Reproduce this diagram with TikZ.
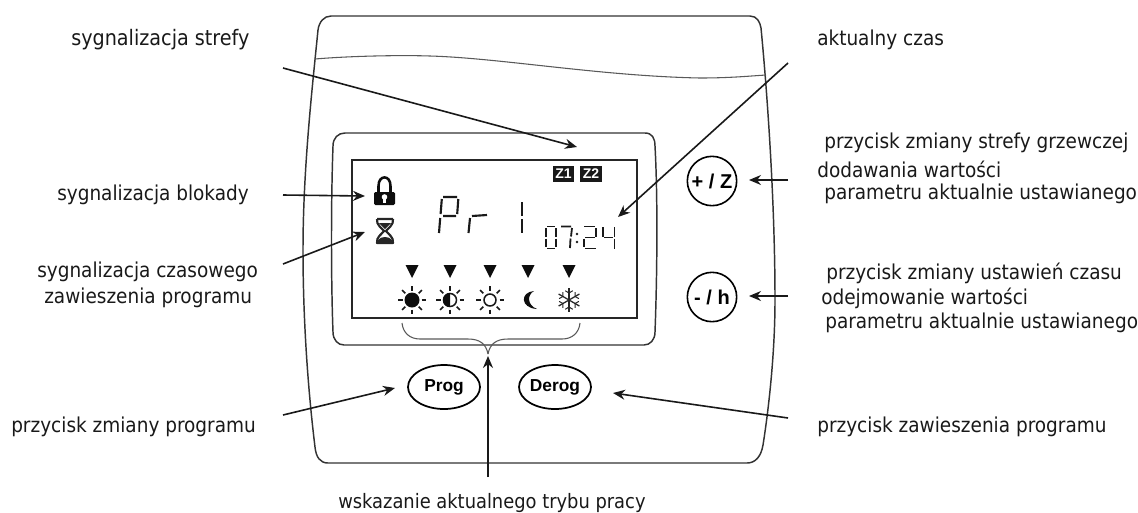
\documentclass[tikz,border=0pt]{standalone}
\usepackage{fontspec}
\setmainfont{DejaVu Sans Condensed}
\newfontfamily\btnfont[BoldFont={Liberation Sans Bold}]{Liberation Sans}
\usetikzlibrary{arrows.meta,shapes.geometric}
\tikzset{
 lbl/.style={anchor=west,inner sep=0pt,font=\fontsize{15.4}{18}\selectfont,text=black!90},
 callout/.style={line width=1.2pt,draw=black!90,-{Stealth[length=9pt,width=7.5pt]}},
 shell/.style={line width=1.1pt,draw=black!80,line join=round},
 thin shell/.style={line width=0.8pt,draw=black!65},
 btnc/.style={draw,circle,line width=1.2pt,minimum size=37pt,inner sep=0pt,font=\btnfont\bfseries\fontsize{15}{16}\selectfont},
 btne/.style={draw,ellipse,line width=1.3pt,minimum width=54pt,minimum height=33pt,inner sep=0pt,font=\btnfont\bfseries\fontsize{13}{15}\selectfont},
 seg/.style={line width=1.6pt,line cap=butt,draw=black!90},
 segs/.style={line width=1.35pt,line cap=butt,draw=black!90},
 zbox/.style={fill=black!90,text=white,inner sep=0pt,minimum width=16pt,minimum height=12.5pt,font=\btnfont\bfseries\fontsize{10.5}{11}\selectfont},
 ray/.style={line width=1.15pt,draw=black!90},
 mark tri/.style={fill=black!95,draw=none},
}
\newcommand{\lcdsun}[3]{%
 \foreach \a in {0,45,...,315}{\draw[ray] ([shift={(\a:9.5)}]#1,#2) -- ([shift={(\a:14)}]#1,#2);}%
 #3}
\newcommand{\lcdtri}[1]{\fill[mark tri] (#1-6.5,265) -- (#1+6.5,265) -- (#1,278) -- cycle;}
\begin{document}
\begin{tikzpicture}[x=0.75pt,y=-0.75pt]
\useasboundingbox (0,0) rectangle (1138,512);
% housing
\draw[shell] (331,16) -- (750,16) .. controls (757,16) and (760,22) .. (761,28)
  .. controls (767,90) and (775,200) .. (775,300) .. controls (775,360) and (767,420) .. (763,445)
  .. controls (761,457) and (755,463) .. (747,463) -- (328,463)
  .. controls (320,463) and (316,457) .. (315,447)
  .. controls (308,390) and (303,320) .. (303,250) .. controls (303,170) and (312,90) .. (318,30)
  .. controls (319,22) and (324,16) .. (331,16) -- cycle;
\draw[thin shell] (315,59) .. controls (350,56) and (400,55) .. (430,56)
  .. controls (500,58) and (600,76) .. (700,78) .. controls (730,78) and (750,76) .. (766,75);
% bezel and LCD
\draw[shell] (345,133) -- (645,133) .. controls (652,133) and (655,138) .. (655,146)
  .. controls (658,200) and (657,280) .. (655,332) .. controls (655,340) and (650,345) .. (644,345)
  -- (344,345) .. controls (338,345) and (333,340) .. (333,332)
  .. controls (331,280) and (331,200) .. (333,146) .. controls (333,138) and (338,133) .. (345,133) -- cycle;
\draw[line width=1.3pt,draw=black!85] (352,160) rectangle (637,318);
% zone flags
\node[zbox] (zone1) at (563.5,174) {Z1};
\node[zbox] (zone2) at (591,174) {Z2};
% lock
\draw[line width=1.9pt,black!95] (378.5,195) -- (378.5,186) .. controls (378.5,174.5) and (390.5,174.5) .. (390.5,186) -- (390.5,195);
\fill[black!95,rounded corners=1pt] (374,192) rectangle (395,205);
\fill[white] (384.5,197) circle (2.8);
\fill[white] (383.2,198) rectangle (385.8,203);
% hourglass
\draw[line width=1.6pt,black!85,line join=round] (377,219) -- (393,219) (393,219) .. controls (394,225) and (388,228) .. (386,231)
  .. controls (388,234) and (394,237) .. (393,243) -- (377,243) .. controls (376,237) and (382,234) .. (384,231)
  .. controls (382,228) and (376,225) .. (377,219);
\fill[black!85] (378,240) .. controls (381,236) and (389,236) .. (392,240) -- (392,243) -- (378,243) -- cycle;
\fill[black!85] (379,223) -- (391,223) -- (385,229) -- cycle;
% big digits
\draw[seg] (441.8,199) -- (440.6,214) (440.2,218) -- (439,233) (443,197) -- (457,197) (458.3,199) -- (457.2,214) (443,216) -- (456,216);
\draw[seg] (470,218) -- (468.5,233) (472,216) -- (487,215);
\draw[seg] (522,202) -- (522,216) (522,219) -- (522,233);
% small digits 07:24
\draw[segs] (546,228) -- (546,236.5) (546,238.5) -- (546,247) (547,226.5) -- (555,226.5) (556,228) -- (556,236.5) (556,238.5) -- (556,247) (547,248.5) -- (555,248.5);
\draw[segs] (561,226.5) -- (571,226.5) (572,228) -- (571,236.5) (570.5,238.5) -- (570,248);
\fill[black!90] (577,234) circle (1.3) (577,242) circle (1.3);
\draw[segs] (584,226.5) -- (595,226.5) (596,228) -- (596,236.5) (585,237.5) -- (595,237.5) (584,238.5) -- (584,247) (585,248.5) -- (596,248.5);
\draw[segs] (603,227) -- (603,236.5) (604,237.5) -- (613,237.5) (614.5,227) -- (614.5,236.5) (614.5,238.5) -- (614.5,249);
% mode markers
\lcdtri{412}\lcdtri{450}\lcdtri{490}\lcdtri{528}\lcdtri{569}
\lcdsun{412}{300}{\fill[black!95] (412,300) circle (7.5);}
\lcdsun{450}{300}{\draw[line width=1.15pt,black!90] (450,300) circle (6.5); \fill[black!95] (450,293) arc (-90:-270:7) -- cycle;}
\lcdsun{490}{300}{\draw[line width=1.15pt,black!90] (490,300) circle (6);}
\fill[black!95] (534,291) .. controls (520,292) and (520,308) .. (537,309) .. controls (527,305) and (527,295) .. (534,291) -- cycle;
\foreach \a in {30,90,150,210,270,330}{
 \draw[line width=0.95pt,black!85] (569,300) -- ([shift={(\a:12)}]569,300);
 \draw[line width=0.75pt,black!85] ([shift={(\a:7)}]569,300) -- ([shift={(\a+22:10)}]569,300);
 \draw[line width=0.75pt,black!85] ([shift={(\a:7)}]569,300) -- ([shift={(\a-22:10)}]569,300);
}
% brace
\coordinate (bracetip) at (488,354);
\draw[thin shell] (402,323) .. controls (403,333) and (410,339) .. (420,339) -- (468,339)
  .. controls (480,339) and (486,344) .. (bracetip);
\draw[thin shell] (580,323) .. controls (579,333) and (572,339) .. (562,339) -- (508,339)
  .. controls (496,339) and (490,344) .. (bracetip);
% buttons
\node[btnc] (plusz) at (712,181) {+ / Z};
\node[btnc] (minush) at (712,297) {- / h};
\node[btne] (prog) at (444,387) {Prog};
\node[btne] (derog) at (555,387) {Derog};
% labels
\node[lbl] (t1) at (71,40) {\fontsize{16}{18}\selectfont sygnalizacja strefy};
\node[lbl] (t2) at (817,40) {aktualny czas};
\node[lbl] (t3) at (57,195) {sygnalizacja blokady};
\node[lbl] (t4) at (37,272) {sygnalizacja czasowego};
\node[lbl] (t5) at (44,298) {zawieszenia programu};
\node[lbl] (t6) at (11,427) {przycisk zmiany programu};
\node[lbl] (t7) at (817,427) {przycisk zawieszenia programu};
\node[lbl] (t8) at (338,503) {\fontsize{14.9}{18}\selectfont wskazanie aktualnego trybu pracy};
\node[lbl] (r1) at (824,143) {przycisk zmiany strefy grzewczej};
\node[lbl] (r2) at (817,169) {dodawania wartości};
\node[lbl] (r3) at (824,194) {parametru aktualnie ustawianego};
\node[lbl] (r4) at (826,273) {przycisk zmiany ustawień czasu};
\node[lbl] (r5) at (821,298) {odejmowanie wartości};
\node[lbl] (r6) at (825,323) {parametru aktualnie ustawianego};
% connectors
\coordinate (s1) at (283,68);  \coordinate (e1) at (577,147);
\coordinate (s2) at (788,63);  \coordinate (e2) at (618,217);
\coordinate (s3) at (283,195); \coordinate (e3) at (365,196);
\coordinate (s4) at (283,264); \coordinate (e4) at (365,232);
\coordinate (s5) at (283,415); \coordinate (e5) at (395,388);
\coordinate (s6) at (788,418); \coordinate (e6) at (613,393);
\coordinate (s7) at (788,180); \coordinate (e7) at (749,180);
\coordinate (s8) at (788,296); \coordinate (e8) at (749,296);
\coordinate (s9) at (488,477); \coordinate (e9) at (488,356);
\foreach \i in {1,...,9}{\draw[callout] (s\i) -- (e\i);}
\end{tikzpicture}
\end{document}
